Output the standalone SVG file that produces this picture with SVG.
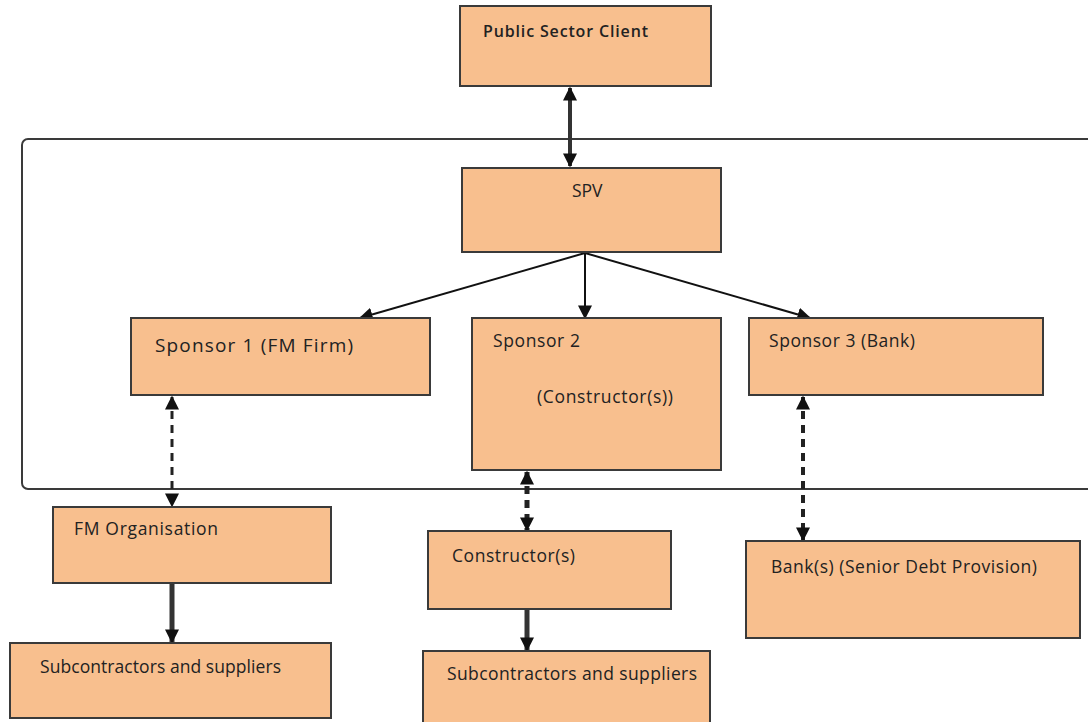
<svg xmlns="http://www.w3.org/2000/svg" width="1088" height="722" viewBox="0 0 1088 722">
<defs>
<style>
.box{fill:#f8bf8e;stroke:#3a3a3a;stroke-width:2}
.t{font-family:"Open Sans","Liberation Sans",Arial,sans-serif;font-size:17.5px;fill:#222}
.c{fill:none;stroke:#111;stroke-width:2}
.thick{fill:none;stroke:#333;stroke-width:5}
.dash{fill:none;stroke:#222;stroke-width:3;stroke-dasharray:8,6}
</style>
<marker id="ahs" viewBox="0 0 10 10" refX="9" refY="5" markerWidth="14" markerHeight="14" markerUnits="userSpaceOnUse" orient="auto-start-reverse">
<path d="M0,0 L10,5 L0,10 z" fill="#111"/>
</marker>
</defs>
<rect width="1088" height="722" fill="#fff"/>
<rect id="frame" x="22" y="139" width="1090" height="350" rx="6" fill="none" stroke="#3a3a3a" stroke-width="2"/>
<g id="connectors">
<line class="thick" x1="570" y1="88" x2="570" y2="166" style="stroke-width:4" marker-start="url(#ahs)" marker-end="url(#ahs)"/>
<line class="c" x1="585" y1="253" x2="360" y2="318" marker-end="url(#ahs)"/>
<line class="c" x1="585" y1="253" x2="585" y2="318" marker-end="url(#ahs)"/>
<line class="c" x1="585" y1="253" x2="810" y2="318" marker-end="url(#ahs)"/>
<line class="dash" x1="172" y1="397" x2="172" y2="506" marker-start="url(#ahs)" marker-end="url(#ahs)"/>
<line class="dash" x1="527" y1="472" x2="527" y2="530" style="stroke-width:5" marker-start="url(#ahs)" marker-end="url(#ahs)"/>
<line class="dash" x1="803" y1="397" x2="803" y2="540" style="stroke-width:4" marker-start="url(#ahs)" marker-end="url(#ahs)"/>
<line class="thick" x1="172" y1="584" x2="172" y2="642" marker-end="url(#ahs)"/>
<line class="thick" x1="527" y1="610" x2="527" y2="650" marker-end="url(#ahs)"/>
</g>
<g id="public-sector-client"><rect class="box" x="460" y="6" width="251" height="80"/><text class="t" x="483" y="37" textLength="165" lengthAdjust="spacing" style="font-weight:600;font-size:16px">Public Sector Client</text></g>
<g id="spv"><rect class="box" x="462" y="168" width="259" height="84"/><text class="t" x="572" y="197">SPV</text></g>
<g id="sponsor1"><rect class="box" x="131" y="318" width="299" height="77"/><text class="t" x="155" y="352" textLength="198" lengthAdjust="spacing" style="font-size:19px">Sponsor 1 (FM Firm)</text></g>
<g id="sponsor2"><rect class="box" x="472" y="318" width="249" height="152"/><text class="t" x="493" y="347" textLength="87" lengthAdjust="spacing">Sponsor 2</text><text class="t" x="537" y="403" textLength="136" lengthAdjust="spacing">(Constructor(s))</text></g>
<g id="sponsor3"><rect class="box" x="749" y="318" width="294" height="77"/><text class="t" x="769" y="347" textLength="146" lengthAdjust="spacing">Sponsor 3 (Bank)</text></g>
<g id="fm-organisation"><rect class="box" x="53" y="507" width="278" height="76"/><text class="t" x="74" y="535" textLength="144" lengthAdjust="spacing">FM Organisation</text></g>
<g id="subcontractors-left"><rect class="box" x="10" y="643" width="321" height="75"/><text class="t" x="40" y="673" textLength="241" lengthAdjust="spacing">Subcontractors and suppliers</text></g>
<g id="constructors"><rect class="box" x="428" y="531" width="243" height="78"/><text class="t" x="452" y="562" textLength="123" lengthAdjust="spacing">Constructor(s)</text></g>
<g id="subcontractors-mid"><rect class="box" x="423" y="651" width="287" height="80"/><text class="t" x="447" y="680" textLength="250" lengthAdjust="spacing">Subcontractors and suppliers</text></g>
<g id="banks"><rect class="box" x="746" y="541" width="334" height="97"/><text class="t" x="771" y="573" textLength="266" lengthAdjust="spacing">Bank(s) (Senior Debt Provision)</text></g>
</svg>
